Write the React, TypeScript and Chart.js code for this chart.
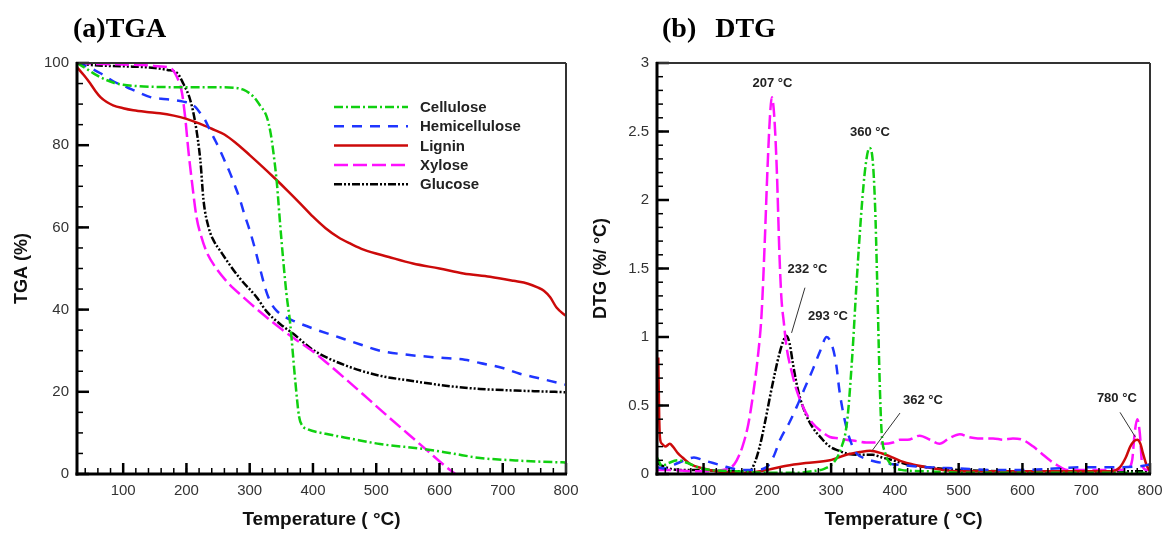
import React, { useEffect, useRef } from "react";
import { Chart, registerables } from "chart.js";

Chart.register(...registerables);

const SANS = "'Liberation Sans', Arial, sans-serif";
const SERIF = "'Liberation Serif', 'Times New Roman', serif";

// ---------- Tick labels ----------
const TEMP_TICKS = [100, 200, 300, 400, 500, 600, 700, 800];
const TGA_TICKS = [0, 20, 40, 60, 80, 100];
const DTG_TICKS = [0, 0.5, 1, 1.5, 2, 2.5, 3];

// ---------- (a) TGA data ----------
const TGA_CELLULOSE_T = [27, 40, 55, 70, 85, 100, 120, 150, 200, 250, 275, 290, 306, 317, 327, 333, 337, 343, 348, 353, 358, 364, 372, 378, 383, 390, 420, 460, 506, 574, 620, 664, 720, 760, 800];
const TGA_CELLULOSE_V = [100, 98.8, 97.3, 96.1, 95.2, 94.7, 94.4, 94.2, 94.1, 94.1, 94.0, 93.5, 91.8, 89.5, 86.9, 83, 78.8, 70.7, 61, 52, 44, 36.6, 22.7, 14, 11.8, 11.0, 9.8, 8.6, 7.3, 6.1, 5.0, 3.9, 3.3, 3.0, 2.8];

const TGA_HEMI_T = [27, 45, 64, 85, 106, 125, 143, 160, 179, 195, 206, 214, 222, 230, 237, 245, 253, 261, 269, 277, 285, 292, 300, 308, 316, 325, 333, 342, 355, 370, 400, 442, 475, 506, 550, 601, 640, 664, 700, 727, 760, 800];
const TGA_HEMI_V = [100, 99, 97.5, 95.5, 94.1, 92.8, 91.7, 91.3, 91, 90.6, 90.2, 89.3, 87.8, 86, 83.7, 81.3, 78.8, 76, 73.2, 70, 66.6, 63, 59.3, 55, 50.2, 45, 41.8, 39.8, 38.3, 37.2, 35.4, 33.2, 31.5, 30, 29, 28.3, 27.8, 27, 25.8, 24.4, 23.2, 21.7];

const TGA_LIGNIN_T = [27, 38, 48, 56, 64, 74, 84, 100, 116, 137, 158, 180, 200, 220, 240, 260, 280, 300, 320, 340, 360, 380, 400, 420, 440, 460, 480, 520, 558, 600, 638, 680, 717, 740, 755, 765, 775, 785, 798, 800];
const TGA_LIGNIN_V = [99, 97, 95, 93.2, 91.7, 90.5, 89.7, 89, 88.5, 88.1, 87.8, 87.2, 86.4, 85.3, 84, 82.6, 80.3, 77.6, 74.8, 71.9, 68.9, 65.8, 62.6, 59.8, 57.6, 56.0, 54.6, 52.8, 51.2, 50, 48.8, 48, 47, 46.3, 45.4, 44.6, 43, 40.5, 38.7, 38.5];

const TGA_XYLOSE_T = [27, 50, 80, 110, 132, 155, 174, 180, 185, 189, 193, 198, 203, 209, 216, 224, 232, 245, 264, 290, 320, 348, 372, 400, 430, 460, 490, 520, 550, 580, 610, 625];
const TGA_XYLOSE_V = [100, 99.8, 99.7, 99.6, 99.5, 99.2, 98.8, 98, 96.6, 95, 92.7, 86.8, 78.8, 70.7, 62.4, 57.5, 54, 50.5, 46.8, 43, 39, 35.5, 32.8, 29.8, 26, 22, 17.9, 13.8, 9.8, 5.8, 1.8, 0];

const TGA_GLUCOSE_T = [27, 50, 100, 150, 170, 185, 195, 206, 214, 222, 227, 235, 244, 253, 268, 285, 311, 327, 348, 369, 400, 450, 506, 550, 585, 620, 664, 720, 760, 800];
const TGA_GLUCOSE_V = [100, 99.5, 99.2, 98.8, 98.3, 97.6, 95, 91, 85.4, 76.3, 66.6, 60, 56.5, 54.4, 51, 47.5, 43, 39.5, 36.5, 34.1, 30.2, 26.5, 23.9, 22.8, 22, 21.3, 20.7, 20.3, 20.1, 19.9];

// ---------- (b) DTG data ----------
const DTG_CELLULOSE_T = [27, 35, 45, 60, 75, 90, 110, 150, 200, 250, 270, 290, 305, 315, 325, 333, 340, 348, 354, 360, 365, 369, 372, 376, 379, 385, 392, 410, 450, 500, 600, 700, 800];
const DTG_CELLULOSE_V = [0.12, 0.06, 0.08, 0.1, 0.08, 0.05, 0.03, 0.02, 0.01, 0.01, 0.02, 0.04, 0.09, 0.18, 0.38, 0.85, 1.4, 1.95, 2.25, 2.38, 2.3, 1.95, 1.45, 0.7, 0.32, 0.15, 0.08, 0.03, 0.02, 0.01, 0.01, 0.01, 0.01];

const DTG_HEMI_T = [27, 40, 55, 70, 85, 100, 115, 130, 145, 160, 180, 199, 210, 220, 235, 246, 258, 271, 283, 293, 302, 308, 313, 318, 324, 332, 340, 355, 370, 400, 450, 500, 550, 600, 650, 700, 750, 790, 800];
const DTG_HEMI_V = [0.05, 0.04, 0.07, 0.1, 0.12, 0.1, 0.08, 0.06, 0.04, 0.03, 0.03, 0.05, 0.13, 0.25, 0.38, 0.49, 0.62, 0.76, 0.9, 1.0, 0.93, 0.8, 0.61, 0.47, 0.34, 0.22, 0.15, 0.11, 0.09, 0.07, 0.05, 0.04, 0.03, 0.03, 0.04, 0.05, 0.05, 0.06, 0.07];

const DTG_LIGNIN_T = [29, 30.5, 32, 35, 40, 47, 52, 60, 67, 80, 100, 120, 150, 170, 200, 230, 260, 298, 324, 345, 361, 380, 397, 412, 428, 450, 475, 500, 550, 600, 650, 700, 740, 753, 762, 769, 775, 780, 785, 789, 795, 800];
const DTG_LIGNIN_V = [0.85, 0.4, 0.25, 0.22, 0.2, 0.22, 0.2, 0.15, 0.12, 0.07, 0.04, 0.02, 0.01, 0.01, 0.03, 0.06, 0.08, 0.1, 0.14, 0.16, 0.17, 0.15, 0.12, 0.09, 0.07, 0.05, 0.03, 0.02, 0.02, 0.02, 0.02, 0.02, 0.02, 0.05, 0.12, 0.2, 0.24, 0.25, 0.22, 0.15, 0.06, 0.02];

const DTG_XYLOSE_T = [27, 50, 80, 110, 130, 144, 152, 161, 170, 177, 185, 191, 196, 200, 204, 207, 211, 215, 219, 222, 226, 230, 238, 246, 258, 271, 285, 298, 312, 324, 340, 355, 370, 385, 397, 408, 420, 439, 455, 470, 485, 502, 515, 530, 554, 570, 585, 600, 617, 630, 643, 656, 670, 690, 710, 730, 750, 765, 772, 776, 780, 784, 788, 795, 800];
const DTG_XYLOSE_V = [0.03, 0.03, 0.02, 0.02, 0.03, 0.05, 0.1, 0.2, 0.36, 0.56, 0.85, 1.17, 1.7, 2.2, 2.6, 2.75, 2.6, 2.2, 1.6, 1.29, 1.1, 0.93, 0.75, 0.61, 0.47, 0.37, 0.31, 0.27, 0.26, 0.25, 0.24, 0.23, 0.23, 0.22, 0.23, 0.25, 0.25, 0.28, 0.25, 0.22, 0.26, 0.29, 0.27, 0.26, 0.26, 0.25, 0.26, 0.25, 0.2, 0.15, 0.1, 0.06, 0.03, 0.03, 0.03, 0.03, 0.03, 0.04, 0.1, 0.3, 0.4, 0.3, 0.06, 0.03, 0.03];

const DTG_GLUCOSE_T = [27, 40, 60, 80, 100, 130, 160, 172, 180, 188, 196, 204, 212, 219, 225, 230, 235, 240, 245, 251, 260, 271, 285, 298, 312, 324, 345, 365, 380, 397, 420, 450, 500, 600, 700, 800];
const DTG_GLUCOSE_V = [0.08, 0.05, 0.03, 0.03, 0.03, 0.02, 0.02, 0.02, 0.08, 0.2, 0.37, 0.56, 0.74, 0.88, 0.97, 1.01, 0.95, 0.81, 0.68, 0.56, 0.44, 0.34, 0.26, 0.2, 0.17, 0.15, 0.14, 0.14, 0.12, 0.1, 0.07, 0.05, 0.03, 0.02, 0.02, 0.02];

// ---------- DTG peak annotations (data units) ----------
const PEAK_LABELS = ["207 °C", "360 °C", "232 °C", "293 °C", "362 °C", "780 °C"];
const PEAK_LABEL_T = [208, 361, 263, 295, 444, 748];
const PEAK_LABEL_V = [2.85, 2.49, 1.49, 1.15, 0.54, 0.55];
const LEADER_FROM_T = [259, 408, 753];
const LEADER_FROM_V = [1.36, 0.445, 0.45];
const LEADER_TO_T = [238, 365, 777];
const LEADER_TO_V = [1.03, 0.175, 0.27];

const SERIES = [
  { name: "Cellulose", color: "#10d010", dash: [9, 3, 2, 3] },
  { name: "Hemicellulose", color: "#1f35ff", dash: [10, 8] },
  { name: "Lignin", color: "#cc0a0a", dash: [] },
  { name: "Xylose", color: "#ff10ff", dash: [14, 5] },
  { name: "Glucose", color: "#000000", dash: [8, 2, 2, 2, 2, 2] },
];

const xy = (t: number[], v: number[]) => t.map((x, i) => ({ x, y: v[i] }));

function makeDatasets(pairs: [number[], number[]][]) {
  return pairs.map(([t, v], i) => ({
    label: SERIES[i].name,
    data: xy(t, v),
    borderColor: SERIES[i].color,
    backgroundColor: SERIES[i].color,
    borderDash: SERIES[i].dash,
    borderWidth: 2.5,
    pointRadius: 0,
    fill: false,
    cubicInterpolationMode: "monotone" as const,
  }));
}

function tickLoop(min: number, max: number, step: number, fn: (v: number) => void) {
  const a = Math.ceil(min / step - 1e-9);
  const b = Math.floor(max / step + 1e-9);
  for (let i = a; i <= b; i++) fn(i * step);
}

const frameTicks = {
  id: "frameTicks",
  afterDraw(chart: any, _args: any, opts: any) {
    const { ctx, chartArea } = chart;
    const { left, right, top, bottom } = chartArea;
    const xs = chart.scales.x;
    const ys = chart.scales.y;
    ctx.save();
    ctx.setLineDash([]);
    ctx.strokeStyle = "#000";
    const line = (x1: number, y1: number, x2: number, y2: number, w: number) => {
      ctx.lineWidth = w;
      ctx.beginPath();
      ctx.moveTo(x1, y1);
      ctx.lineTo(x2, y2);
      ctx.stroke();
    };
    tickLoop(xs.min, xs.max, opts.xMinor, (v) => {
      const p = xs.getPixelForValue(v);
      line(p, bottom, p, bottom - 6, 1.5);
    });
    tickLoop(xs.min, xs.max, opts.xMajor, (v) => {
      const p = xs.getPixelForValue(v);
      line(p, bottom, p, bottom - 11, 2.5);
    });
    tickLoop(ys.min, ys.max, opts.yMinor, (v) => {
      const p = ys.getPixelForValue(v);
      line(left, p, left + 6, p, 1.5);
    });
    tickLoop(ys.min, ys.max, opts.yMajor, (v) => {
      const p = ys.getPixelForValue(v);
      line(left - 1, p, left + 12, p, 2.5);
    });
    ctx.strokeStyle = "#333";
    line(left, top, right, top, 2);
    line(right, top, right, bottom, 2);
    ctx.strokeStyle = "#000";
    line(left, top - 1, left, bottom + 1.5, 3);
    line(left - 1.5, bottom, right + 1, bottom, 3);
    ctx.restore();
  },
};

const lineLegend = {
  id: "lineLegend",
  afterDraw(chart: any, _args: any, opts: any) {
    if (!opts || !opts.show) return;
    const { ctx, chartArea } = chart;
    ctx.save();
    chart.data.datasets.forEach((ds: any, i: number) => {
      const y = chartArea.top + opts.y0 + i * opts.dy;
      const x = chartArea.left + opts.x0;
      ctx.strokeStyle = ds.borderColor;
      ctx.lineWidth = 2.5;
      ctx.setLineDash(ds.borderDash || []);
      ctx.beginPath();
      ctx.moveTo(x, y);
      ctx.lineTo(x + opts.len, y);
      ctx.stroke();
      ctx.setLineDash([]);
      ctx.fillStyle = "#222";
      ctx.font = `bold 15px ${SANS}`;
      ctx.textAlign = "left";
      ctx.textBaseline = "middle";
      ctx.fillText(ds.label, x + opts.len + 12, y + 1);
    });
    ctx.restore();
  },
};

const peakNotes = {
  id: "peakNotes",
  afterDraw(chart: any, _args: any, opts: any) {
    if (!opts || !opts.show) return;
    const { ctx } = chart;
    const xs = chart.scales.x;
    const ys = chart.scales.y;
    ctx.save();
    ctx.strokeStyle = "#333";
    ctx.lineWidth = 1;
    ctx.setLineDash([]);
    LEADER_FROM_T.forEach((t, i) => {
      ctx.beginPath();
      ctx.moveTo(xs.getPixelForValue(t), ys.getPixelForValue(LEADER_FROM_V[i]));
      ctx.lineTo(xs.getPixelForValue(LEADER_TO_T[i]), ys.getPixelForValue(LEADER_TO_V[i]));
      ctx.stroke();
    });
    ctx.fillStyle = "#222";
    ctx.font = `bold 13px ${SANS}`;
    ctx.textAlign = "center";
    ctx.textBaseline = "middle";
    PEAK_LABELS.forEach((s, i) => {
      ctx.fillText(s, xs.getPixelForValue(PEAK_LABEL_T[i]), ys.getPixelForValue(PEAK_LABEL_V[i]));
    });
    ctx.restore();
  },
};

function buildConfig(kind: "tga" | "dtg"): any {
  const isTga = kind === "tga";
  const datasets = isTga
    ? makeDatasets([
        [TGA_CELLULOSE_T, TGA_CELLULOSE_V],
        [TGA_HEMI_T, TGA_HEMI_V],
        [TGA_LIGNIN_T, TGA_LIGNIN_V],
        [TGA_XYLOSE_T, TGA_XYLOSE_V],
        [TGA_GLUCOSE_T, TGA_GLUCOSE_V],
      ])
    : makeDatasets([
        [DTG_CELLULOSE_T, DTG_CELLULOSE_V],
        [DTG_HEMI_T, DTG_HEMI_V],
        [DTG_LIGNIN_T, DTG_LIGNIN_V],
        [DTG_XYLOSE_T, DTG_XYLOSE_V],
        [DTG_GLUCOSE_T, DTG_GLUCOSE_V],
      ]);
  const yTicks = isTga ? TGA_TICKS : DTG_TICKS;
  return {
    type: "line",
    data: { datasets },
    plugins: [frameTicks, lineLegend, peakNotes],
    options: {
      animation: false,
      responsive: false,
      events: [],
      layout: { padding: { left: 0, top: 63, right: isTga ? 14 : 23, bottom: 0 } },
      plugins: {
        legend: { display: false },
        tooltip: { enabled: false },
        title: { display: false },
        frameTicks: isTga
          ? { xMajor: 100, xMinor: 20, yMajor: 20, yMinor: 5 }
          : { xMajor: 100, xMinor: 20, yMajor: 0.5, yMinor: 0.1 },
        lineLegend: { show: isTga, x0: 257, y0: 44, dy: 19.3, len: 74 },
        peakNotes: { show: !isTga },
      },
      scales: {
        x: {
          type: "linear",
          min: 27,
          max: 800,
          afterBuildTicks: (s: any) => {
            s.ticks = TEMP_TICKS.map((v) => ({ value: v }));
          },
          afterFit: (s: any) => {
            s.height = 59;
            s.paddingLeft = 0;
            s.paddingRight = 0;
          },
          grid: { display: false, drawTicks: false },
          border: { display: false },
          ticks: {
            padding: 8,
            autoSkip: false,
            maxRotation: 0,
            color: "#333",
            font: { family: SANS, size: 15 },
          },
          title: {
            display: true,
            text: "Temperature ( °C)",
            color: "#111",
            font: { family: SANS, size: 19, weight: "bold" },
            padding: { top: 0, bottom: 2 },
          },
        },
        y: {
          type: "linear",
          min: 0,
          max: isTga ? 100 : 3,
          afterBuildTicks: (s: any) => {
            s.ticks = yTicks.map((v) => ({ value: v }));
          },
          afterFit: (s: any) => {
            s.width = 77;
            s.paddingTop = 0;
            s.paddingBottom = 0;
          },
          grid: { display: false, drawTicks: false },
          border: { display: false },
          ticks: {
            padding: 8,
            autoSkip: false,
            color: "#333",
            font: { family: SANS, size: 15 },
            callback: (v: any) => String(v),
          },
          title: {
            display: true,
            text: isTga ? "TGA (%)" : "DTG (%/ °C)",
            color: "#111",
            font: { family: SANS, size: 18, weight: "bold" },
            padding: { top: isTga ? 11 : 10, bottom: 0 },
          },
        },
      },
    },
  };
}

function Panel({ kind, width }: { kind: "tga" | "dtg"; width: number }) {
  const ref = useRef<HTMLCanvasElement | null>(null);
  useEffect(() => {
    if (!ref.current) return;
    const chart = new Chart(ref.current, buildConfig(kind));
    return () => chart.destroy();
  }, [kind]);
  return (
    <canvas
      ref={ref}
      width={width}
      height={533}
      style={{ display: "block", width: `${width}px`, height: "533px" }}
    />
  );
}

export default function App() {
  const titleStyle: React.CSSProperties = {
    position: "absolute",
    top: 13,
    fontFamily: SERIF,
    fontWeight: "bold",
    fontSize: "28px",
    lineHeight: "30px",
    color: "#000",
    whiteSpace: "nowrap",
  };
  return (
    <div
      style={{
        position: "absolute",
        left: 0,
        top: 0,
        width: 1173,
        height: 533,
        background: "#fff",
        overflow: "hidden",
      }}
    >
      <div style={{ position: "absolute", left: 0, top: 0 }}>
        <Panel kind="tga" width={580} />
      </div>
      <div style={{ position: "absolute", left: 580, top: 0 }}>
        <Panel kind="dtg" width={593} />
      </div>
      <div style={{ ...titleStyle, left: 73 }}>(a)TGA</div>
      <div style={{ ...titleStyle, left: 662, wordSpacing: "12px" }}>(b) DTG</div>
    </div>
  );
}
